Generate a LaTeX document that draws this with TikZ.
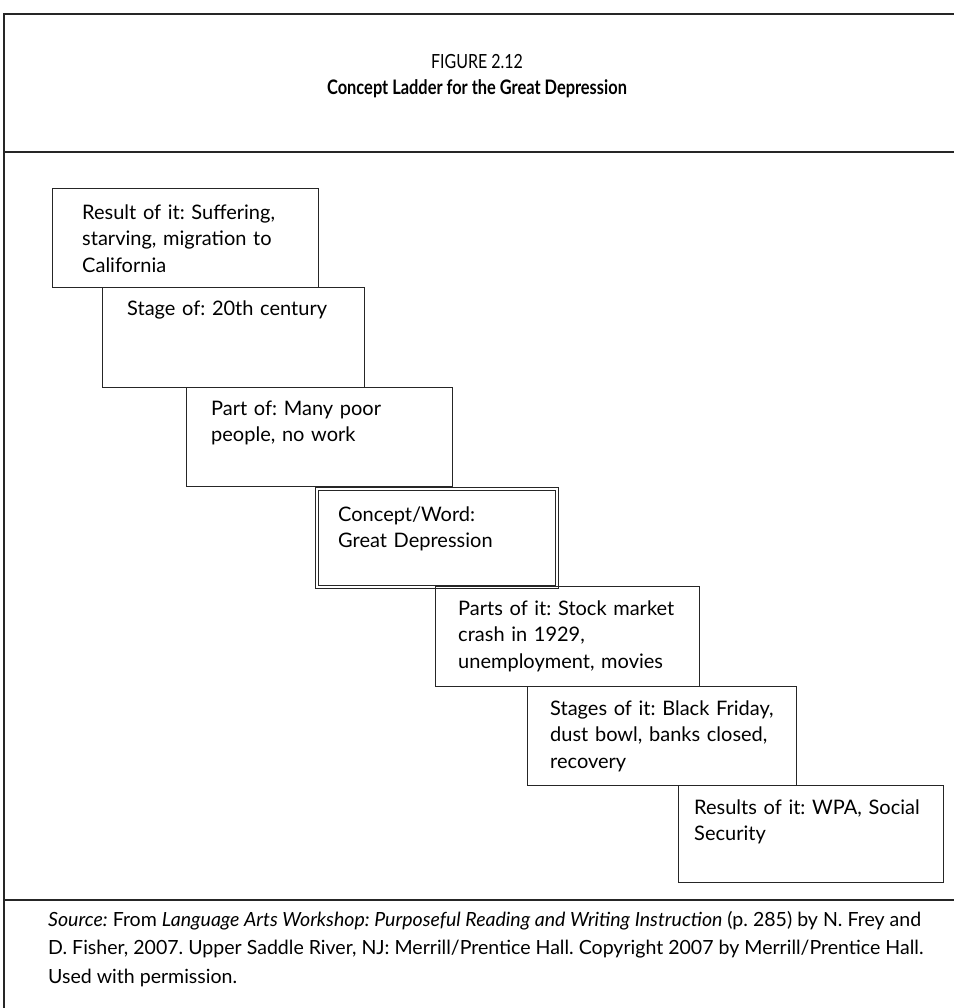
\documentclass[tikz,border=0pt]{standalone}
\usepackage{fontspec}
\setmainfont{Lato}
\newfontfamily\titlefont[FakeStretch=0.82]{Lato}
\usetikzlibrary{calc}
\newlength\wmeasB
\begin{document}
\frenchspacing
\settowidth\wmeasB{\fontsize{10}{12}\selectfont\textit{Source:} From \textit{Language Arts Workshop: Purposeful Reading and Writing Instruction} (p.~285) by N. Frey and}%
\pgfmathsetmacro\srcfs{10*873/\wmeasB}%
\begin{tikzpicture}[x=1pt,y=-1pt,
  frame/.style={line width=1.4pt,draw=black!85},
  box/.style={draw=black!85,line width=1pt,inner sep=0pt,anchor=north west},
  dbox/.style={draw=black!85,line width=3.6pt,inner sep=0pt,anchor=north west,
     postaction={draw=white,line width=1.4pt}},
  txt/.style={anchor=base west,inner sep=0pt,align=left,text width=#1,
     font=\fontsize{20}{26.5}\selectfont},
  txt/.default=300pt,
  src/.style={anchor=base west,inner sep=0pt,font=\fontsize{\srcfs}{28}\selectfont}]
\useasboundingbox (0,0) rectangle (954,1008);
% frame
\coordinate (ftl) at (4,14);
\coordinate (ftr) at (954,14);
\coordinate (fbl) at (4,1008);
\coordinate (s1l) at (4,152);
\coordinate (s1r) at (954,152);
\coordinate (s2l) at (4,900);
\coordinate (s2r) at (954,900);
\draw[frame] (fbl) -- (ftl) -- (ftr);
\draw[frame] (s1l) -- (s1r);
\draw[frame] (s2l) -- (s2r);
% title
\node[inner sep=0pt,anchor=base,font=\titlefont\fontsize{19.5}{22}\selectfont] (t1) at (477,69) {FIGURE 2.12};
\node[inner sep=0pt,anchor=base,font=\titlefont\bfseries\fontsize{20}{22}\selectfont] (t2) at (477,95) {Concept Ladder for the Great Depression};
% boxes
\node[box,minimum width=266pt,minimum height=99pt] (b1) at (51.5,188) {};
\node[box,minimum width=262pt,minimum height=100pt] (b2) at (102,287) {};
\node[box,minimum width=266pt,minimum height=99pt] (b3) at (186,387) {};
\node[dbox,minimum width=240pt,minimum height=98pt] (b4) at (315,487) {};
\node[box,minimum width=264pt,minimum height=100pt] (b5) at (435,586) {};
\node[box,minimum width=269pt,minimum height=99pt] (b6) at (527,686) {};
\node[box,minimum width=265pt,minimum height=97pt] (b7) at (678,785) {};
% texts
\node[txt] (x1) at ($(b1.north west)+(30.5,31)$) {Result of it: Suffering,\\starving, migration to\\California};
\node[txt] (x2) at ($(b2.north west)+(25,28)$) {Stage of: 20th century};
\node[txt] (x3) at ($(b3.north west)+(25,28)$) {Part of: Many poor\\people, no work};
\node[txt] (x4) at ($(b4.north west)+(23,34)$) {Concept/Word:\\Great Depression};
\node[txt] (x5) at ($(b5.north west)+(23,29)$) {Parts of it: Stock market\\crash in 1929,\\unemployment, movies};
\node[txt] (x6) at ($(b6.north west)+(23,29)$) {Stages of it: Black Friday,\\dust bowl, banks closed,\\recovery};
\node[txt] (x7) at ($(b7.north west)+(16,29)$) {Results of it: WPA, Social\\Security};
% source
\node[src] (src1) at (48,926) {\textit{Source:} From \textit{Language Arts Workshop: Purposeful Reading and Writing Instruction} (p.~285) by N. Frey and};
\node[src] (src2) at (48,954.5) {D. Fisher, 2007. Upper Saddle River, NJ: Merrill/Prentice Hall. Copyright 2007 by Merrill/Prentice Hall.};
\node[src] (src3) at (48,983) {Used with permission.};
\end{tikzpicture}
\end{document}
